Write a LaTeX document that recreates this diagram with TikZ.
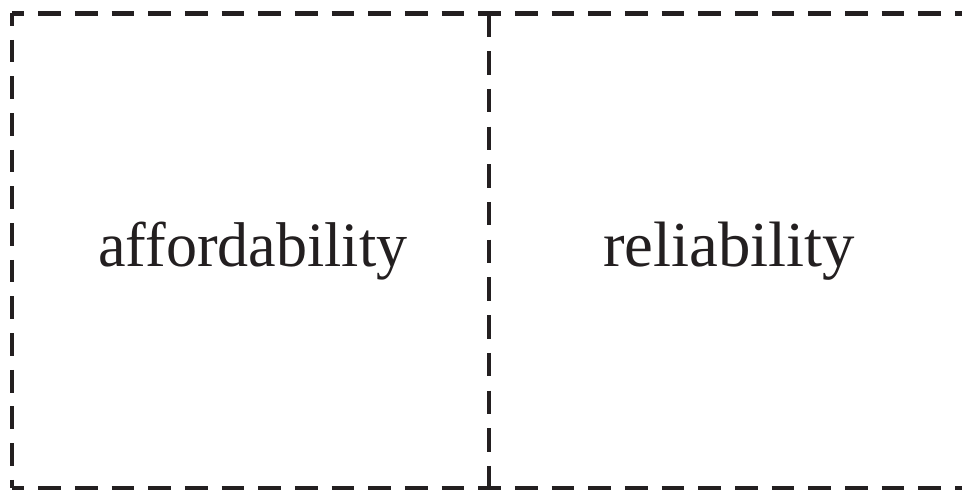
\documentclass[tikz,border=0pt]{standalone}
\usepackage{fontspec}
\setmainfont{Liberation Serif}
\usepackage{graphicx}
\definecolor{ink}{HTML}{231F20}
\begin{document}
\begin{tikzpicture}[x=1pt,y=1pt,
  boxline/.style={line width=4.5pt, draw=ink, dash pattern=on 22.7pt off 13.97pt, dash phase=10.4pt},
  divline/.style={line width=4.5pt, draw=ink, dash pattern=on 23.5pt off 14.2pt},
  boxtext/.style={inner sep=0pt, anchor=base, text=ink, font=\fontsize{65}{78}\selectfont}]
\useasboundingbox (0,0) rectangle (962,491);
\clip (0,0) rectangle (962,491);
\coordinate (TL) at (12,477.5);
\coordinate (TR) at (969,477.5);
\coordinate (BL) at (12,3);
\coordinate (BR) at (969,3);
\coordinate (DT) at (489,477.5);
\coordinate (DB) at (489,3);
\draw[boxline] (TL) -- (TR);
\draw[boxline] (BL) -- (BR);
\draw[boxline] (TL) -- (BL);
\draw[boxline] (TR) -- (BR);
\draw[divline] (DT) -- (DB);
\node[boxtext] (afford) at (252.8,224.3) {\resizebox{309pt}{44.5pt}{affordability}};
\node[boxtext] (reliab) at (729.2,224.3) {\resizebox{252pt}{44.5pt}{reliability}};
\end{tikzpicture}
\end{document}
